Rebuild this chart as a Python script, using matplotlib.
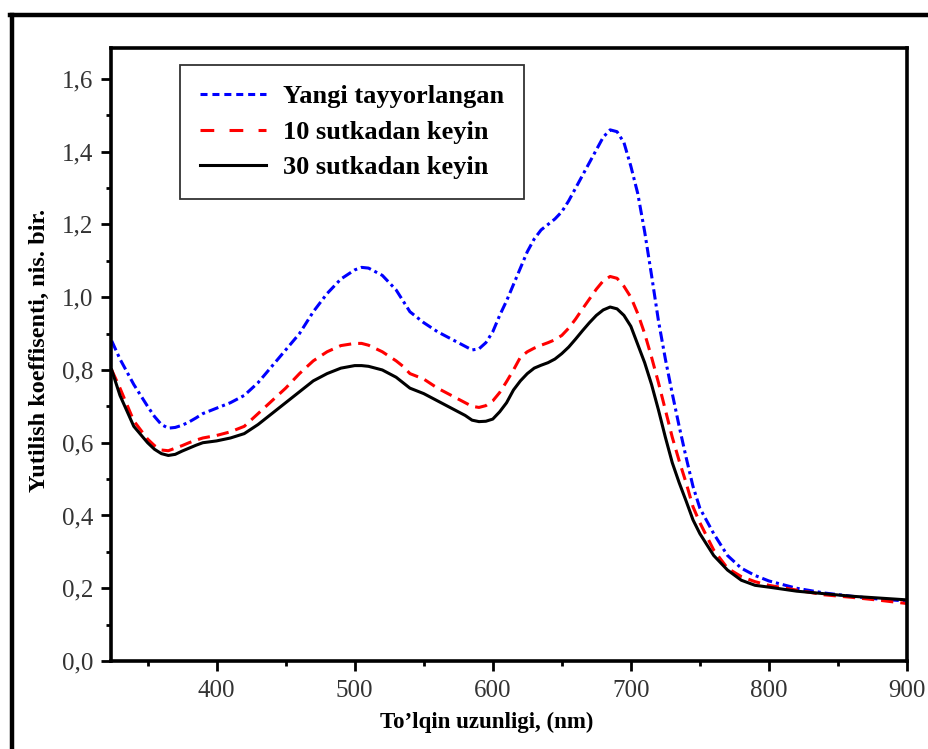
import matplotlib

matplotlib.use("Agg")
import matplotlib.pyplot as plt
from matplotlib.lines import Line2D
from matplotlib.ticker import FuncFormatter, MultipleLocator

# wavelength grid (nm) and absorbance readings for each sample
wavelength = [324, 330, 340, 350, 355, 360, 365, 370, 375, 380, 385, 390, 400, 410, 420, 430, 440, 450,
              460, 470, 480, 490, 500, 505, 510, 520, 530, 535, 540, 550, 560, 570, 580,
              585, 590, 595, 600, 605, 610, 615, 620, 625, 630, 635, 640, 645, 650, 655, 660, 665,
              670, 675, 680, 685, 690, 695, 700,
              705, 710, 715, 720, 725, 730, 735, 740, 745, 750, 760, 770, 780, 790, 800,
              820, 840, 860, 880, 900]

fresh = [0.88, 0.83, 0.76, 0.70, 0.672, 0.65, 0.64, 0.642, 0.648, 0.657, 0.668, 0.68, 0.695, 0.71, 0.73,
         0.765, 0.81, 0.855, 0.90, 0.96, 1.01, 1.05, 1.075, 1.082, 1.08, 1.06, 1.02, 0.99, 0.96, 0.93,
         0.905, 0.885, 0.865, 0.855, 0.858, 0.875, 0.905, 0.95, 0.99, 1.035, 1.08, 1.125, 1.16, 1.185,
         1.20, 1.215, 1.235, 1.265, 1.30, 1.335, 1.37, 1.405, 1.44, 1.46, 1.455, 1.425, 1.36,
         1.285, 1.18, 1.06, 0.935, 0.83, 0.735, 0.645, 0.56, 0.48, 0.42, 0.35, 0.29, 0.255, 0.235, 0.22,
         0.20, 0.187, 0.178, 0.17, 0.165]

day10 = [0.80, 0.75, 0.66, 0.61, 0.592, 0.58, 0.578, 0.585, 0.592, 0.60, 0.607, 0.613, 0.62, 0.63, 0.645,
         0.68, 0.715, 0.75, 0.79, 0.825, 0.85, 0.867, 0.873, 0.873, 0.868, 0.85, 0.825, 0.81, 0.79, 0.775,
         0.75, 0.73, 0.71, 0.70, 0.697, 0.702, 0.715, 0.738, 0.768, 0.80, 0.835, 0.85, 0.86, 0.868,
         0.875, 0.883, 0.895, 0.915, 0.94, 0.968, 0.995, 1.022, 1.045, 1.057, 1.052, 1.03, 1.0,
         0.955, 0.9, 0.835, 0.765, 0.69, 0.615, 0.55, 0.49, 0.424, 0.38, 0.305, 0.255, 0.232, 0.218, 0.208,
         0.195, 0.182, 0.175, 0.167, 0.158]

day30 = [0.80, 0.73, 0.645, 0.60, 0.582, 0.57, 0.565, 0.568, 0.577, 0.585, 0.593, 0.60, 0.605, 0.613, 0.625,
         0.65, 0.68, 0.71, 0.74, 0.77, 0.79, 0.805, 0.812, 0.812, 0.81, 0.80, 0.78, 0.765, 0.75, 0.735,
         0.715, 0.695, 0.675, 0.662, 0.658, 0.659, 0.665, 0.685, 0.71, 0.745, 0.77, 0.79, 0.805, 0.813,
         0.82, 0.83, 0.845, 0.863, 0.885, 0.908, 0.93, 0.95, 0.965, 0.973, 0.968, 0.95, 0.92,
         0.87, 0.82, 0.76, 0.69, 0.615, 0.545, 0.49, 0.44, 0.388, 0.35, 0.29, 0.25, 0.222, 0.208, 0.203,
         0.192, 0.185, 0.178, 0.173, 0.168]

labels = ["Yangi tayyorlangan", "10 sutkadan keyin", "30 sutkadan keyin"]

plt.rcParams["font.family"] = ["Liberation Serif", "DejaVu Serif"]

fig = plt.figure(figsize=(9.29, 7.49), dpi=100)
ax = fig.add_axes([111 / 929, 1 - 661 / 749, (907 - 111) / 929, (661 - 48) / 749])

ax.plot(wavelength, fresh, color="#0000ff", lw=2.2, dashes=(3.4, 1.3, 1.0, 1.3))
ax.plot(wavelength, day10, color="#ff0000", lw=2.2, dashes=(4.0, 2.3))
ax.plot(wavelength, day30, color="black", lw=2.2)

ax.set_xlim(323.5, 900)
ax.set_ylim(0, 1.685)
ax.xaxis.set_major_locator(MultipleLocator(100))
ax.xaxis.set_minor_locator(MultipleLocator(50))
ax.yaxis.set_major_locator(MultipleLocator(0.2))
ax.yaxis.set_minor_locator(MultipleLocator(0.1))
ax.yaxis.set_major_formatter(FuncFormatter(lambda v, p: f"{v:.1f}".replace(".", ",")))

for s in ax.spines.values():
    s.set_linewidth(2.6)
ax.tick_params(which="major", direction="out", length=7.5, width=2, labelsize=18,
               colors="black", labelcolor="#333333")
ax.tick_params(which="minor", direction="out", length=3.5, width=2)
ax.tick_params(axis="x", which="major", pad=6)
ax.tick_params(axis="y", which="major", pad=5)

ax.set_xlabel("To’lqin uzunligi, (nm)", fontsize=16.5, fontweight="bold")
ax.set_ylabel("Yutilish koeffisenti, nis. bir.", fontsize=17.5, fontweight="bold")
ax.xaxis.set_label_coords(0.472, -0.083)
ax.yaxis.set_label_coords(-0.077, 0.507)

handles = [
    Line2D([], [], color="#0000ff", lw=2.2, dashes=(2.3, 1.6)),
    Line2D([], [], color="#ff0000", lw=2.2, dashes=(4.5, 5.0)),
    Line2D([], [], color="black", lw=2.2),
]
leg = ax.legend(handles, labels, loc="upper left", bbox_to_anchor=(0.0867, 0.972),
                prop={"weight": "bold", "size": 19}, frameon=True, fancybox=False,
                handlelength=2.5, handletextpad=0.65, labelspacing=0.45, borderpad=0.75,
                borderaxespad=0)
leg.get_frame().set_edgecolor("black")
leg.get_frame().set_linewidth(1.3)

# outer frame of the figure (left and top edges visible)
fig.add_artist(Line2D([12 / 929, 12 / 929], [0, 1 - 15 / 749], color="black", lw=3.2,
                      transform=fig.transFigure))
fig.add_artist(Line2D([10 / 929, 1], [1 - 15 / 749, 1 - 15 / 749], color="black", lw=3.2,
                      transform=fig.transFigure))

fig.savefig("out.png", dpi=100)
